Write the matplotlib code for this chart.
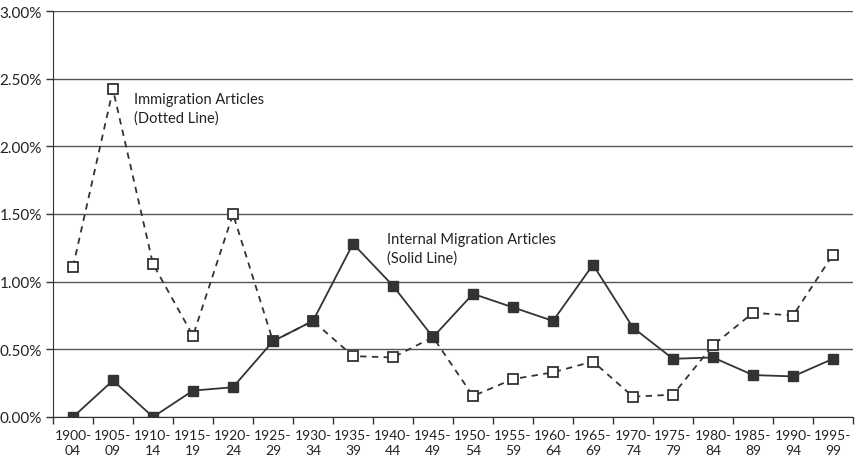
import matplotlib
matplotlib.use("Agg")
import matplotlib.pyplot as plt
from matplotlib.ticker import FuncFormatter, FixedLocator

plt.rcParams['font.family'] = ['Lato', 'DejaVu Sans']

periods = ["1900-\n04", "1905-\n09", "1910-\n14", "1915-\n19", "1920-\n24", "1925-\n29",
           "1930-\n34", "1935-\n39", "1940-\n44", "1945-\n49", "1950-\n54", "1955-\n59",
           "1960-\n64", "1965-\n69", "1970-\n74", "1975-\n79", "1980-\n84", "1985-\n89",
           "1990-\n94", "1995-\n99"]
immigration = [1.11, 2.42, 1.13, 0.60, 1.50, 0.56, 0.71, 0.45, 0.44, 0.59,
               0.155, 0.28, 0.33, 0.41, 0.15, 0.165, 0.53, 0.77, 0.75, 1.20]
internal = [0.0, 0.27, 0.0, 0.195, 0.22, 0.56, 0.71, 1.28, 0.97, 0.59,
            0.91, 0.81, 0.71, 1.125, 0.66, 0.43, 0.44, 0.31, 0.30, 0.43]
yticks = [0.0, 0.5, 1.0, 1.5, 2.0, 2.5, 3.0]

dark = "#333333"
fig = plt.figure(figsize=(8.55, 4.64), dpi=100)
ax = fig.add_axes([53/855, 46/464, 800/855, 406/464])

x = list(range(len(periods)))
ax.plot(x, immigration, color=dark, lw=1.3, ls=(0, (3.5, 3)), marker='s', ms=6.5,
        mfc='white', mec=dark, mew=1.3, zorder=3)
ax.plot(x, internal, color=dark, lw=1.3, ls='-', marker='s', ms=6.5,
        mfc=dark, mec=dark, mew=1.0, zorder=4)

ax.set_xlim(-0.5, len(periods) - 0.5)
ax.set_ylim(0, 3.0)
ax.set_yticks(yticks)
ax.yaxis.set_major_formatter(FuncFormatter(lambda v, p: f"{v:.2f}%"))
ax.set_xticks(x)
ax.set_xticklabels(periods, fontsize=10, color="#222222", linespacing=1.3)
ax.xaxis.set_minor_locator(FixedLocator([i - 0.5 for i in range(len(periods) + 1)]))
ax.tick_params(axis='x', which='major', length=0, pad=9)
ax.tick_params(axis='x', which='minor', length=5, width=1, color=dark)
ax.tick_params(axis='y', length=5, width=1, color=dark, labelsize=11, labelcolor="#222222", pad=3)

ax.grid(axis='y', color="#555555", lw=1.0)
ax.set_axisbelow(True)
for s in ['top', 'right']:
    ax.spines[s].set_visible(False)
ax.spines['left'].set_color(dark)
ax.spines['bottom'].set_color(dark)

ax.text(1.52, 2.40, "Immigration Articles\n(Dotted Line)", fontsize=10.5, color="#222222",
        va='top', ha='left', linespacing=1.4)
ax.text(7.85, 1.37, "Internal Migration Articles\n(Solid Line)", fontsize=10.5, color="#222222",
        va='top', ha='left', linespacing=1.4)

fig.savefig("out.png", dpi=100)
